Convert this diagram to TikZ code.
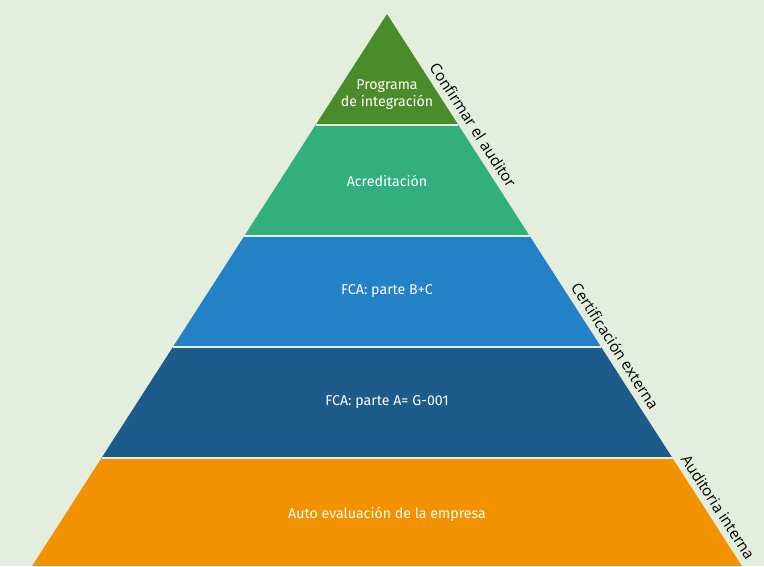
\documentclass[tikz,border=0pt]{standalone}
\usepackage{fontspec}
\setmainfont{Fira Sans}
\newfontfamily\labelfont{Open Sans}
\definecolor{bgc}{HTML}{E4EEDF}
\definecolor{c1}{HTML}{4A8C2A}
\definecolor{c2}{HTML}{33AE7E}
\definecolor{c3}{HTML}{2381C6}
\definecolor{c4}{HTML}{1C5B8A}
\definecolor{c5}{HTML}{F29200}
\tikzset{
  band/.style={draw=none},
  sep/.style={draw=bgc, line width=1.6pt},
  bandtext/.style={text=white, font=\fontsize{14.2}{17}\selectfont, align=center},
  sidelabel/.style={rotate=-57.1, anchor=south, inner sep=6pt, text=black, font=\labelfont\fontsize{15.3}{18}\selectfont}
}
\begin{document}
\begin{tikzpicture}[x=1pt,y=-1pt]
\fill[bgc] (0,0) rectangle (764,566);
\useasboundingbox (0,0) rectangle (764,566);
% bands
\fill[c1] (387,14) -- (458.4,125) -- (315.6,125) -- cycle;
\fill[c2] (315.6,125) -- (458.4,125) -- (529.7,236) -- (244.3,236) -- cycle;
\fill[c3] (244.3,236) -- (529.7,236) -- (601.1,347) -- (172.9,347) -- cycle;
\fill[c4] (172.9,347) -- (601.1,347) -- (672.5,458) -- (101.5,458) -- cycle;
\fill[c5] (101.5,458) -- (672.5,458) -- (741.9,566) -- (32.1,566) -- cycle;
% separators
\draw[sep] (315.6,125) -- (458.4,125);
\draw[sep] (244.3,236) -- (529.7,236);
\draw[sep] (172.9,347) -- (601.1,347);
\draw[sep] (101.5,458) -- (672.5,458);
% texts
\node[bandtext] (t1) at (387,95) {Programa\\de integración};
\node[bandtext] (t2) at (387,181) {Acreditación};
\node[bandtext] (t3) at (387,291) {FCA: parte B+C};
\node[bandtext] (t4) at (387,402) {FCA: parte A= G-001};
\node[bandtext] (t5) at (387,514) {Auto evaluación de la empresa};
% side labels
\node[sidelabel] (l1) at (463,131.5) {Confirmar el auditor};
\node[sidelabel] (l2) at (605,352.5) {Certificación externa};
\node[sidelabel] (l3) at (708,513.5) {Auditoria interna};
\end{tikzpicture}
\end{document}
